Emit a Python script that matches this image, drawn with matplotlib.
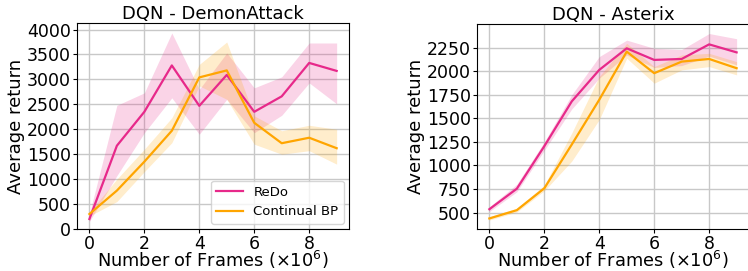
import matplotlib
matplotlib.use("Agg")
import matplotlib.pyplot as plt
import numpy as np

frames = np.arange(10)

# DQN - DemonAttack
demon_redo = [200, 1670, 2350, 3280, 2470, 3090, 2350, 2660, 3330, 3170]
demon_redo_lo = [150, 1070, 1930, 2630, 1900, 2600, 1930, 2280, 2930, 2510]
demon_redo_hi = [300, 2480, 2730, 3930, 2800, 3530, 2830, 3050, 3730, 3730]
demon_bp = [300, 770, 1350, 1970, 3040, 3180, 2130, 1720, 1830, 1620]
demon_bp_lo = [260, 550, 1150, 1730, 2870, 2600, 1700, 1500, 1570, 1300]
demon_bp_hi = [340, 1000, 1600, 2230, 3300, 3750, 2270, 1970, 2080, 2000]

# DQN - Asterix
aster_redo = [535, 753, 1204, 1680, 2014, 2243, 2120, 2130, 2285, 2200]
aster_redo_lo = [510, 720, 1160, 1600, 1926, 2172, 2040, 2060, 2160, 2067]
aster_redo_hi = [560, 800, 1250, 1750, 2155, 2330, 2243, 2230, 2400, 2345]
aster_bp = [437, 525, 757, 1222, 1697, 2208, 1979, 2102, 2130, 2032]
aster_bp_lo = [420, 505, 730, 1046, 1486, 2138, 1873, 2014, 2049, 1961]
aster_bp_hi = [455, 545, 790, 1345, 1944, 2296, 2049, 2173, 2190, 2102]

redo_color = "#e7298a"
bp_color = "#ffa500"

fig = plt.figure(figsize=(7.48, 2.71), dpi=100)
ax1 = fig.add_axes([0.103, 0.155, 0.3636, 0.760])
ax2 = fig.add_axes([0.6377, 0.155, 0.3636, 0.756])


def draw(ax, redo, redo_lo, redo_hi, bp, bp_lo, bp_hi, title):
    ax.fill_between(frames, redo_lo, redo_hi, color=redo_color, alpha=0.2, lw=0)
    ax.fill_between(frames, bp_lo, bp_hi, color=bp_color, alpha=0.2, lw=0)
    ax.plot(frames, redo, color=redo_color, lw=1.6, label="ReDo")
    ax.plot(frames, bp, color=bp_color, lw=1.6, label="Continual BP")
    ax.set_title(title, fontsize=13, pad=2)
    ax.set_xlabel(r"Number of Frames ($\times 10^6$)", fontsize=12.8, labelpad=-3)
    ax.set_ylabel("Average return", fontsize=13, labelpad=1)
    ax.set_xticks([0, 2, 4, 6, 8])
    ax.tick_params(labelsize=12.5, length=3, pad=1.5)
    ax.grid(True, color="#c8c8c8", lw=1)
    ax.set_axisbelow(True)


draw(ax1, demon_redo, demon_redo_lo, demon_redo_hi, demon_bp, demon_bp_lo, demon_bp_hi,
     "DQN - DemonAttack")
ax1.set_xlim(-0.45, 9.45)
ax1.set_ylim(0, 4130)
ax1.set_yticks(np.arange(0, 4001, 500))
ax1.legend(loc="lower right", fontsize=9.5, borderaxespad=0.4)

draw(ax2, aster_redo, aster_redo_lo, aster_redo_hi, aster_bp, aster_bp_lo, aster_bp_hi,
     "DQN - Asterix")
ax2.set_xlim(-0.45, 9.45)
ax2.set_ylim(325, 2500)
ax2.set_yticks(np.arange(500, 2251, 250))

fig.savefig("out.png", dpi=100)
